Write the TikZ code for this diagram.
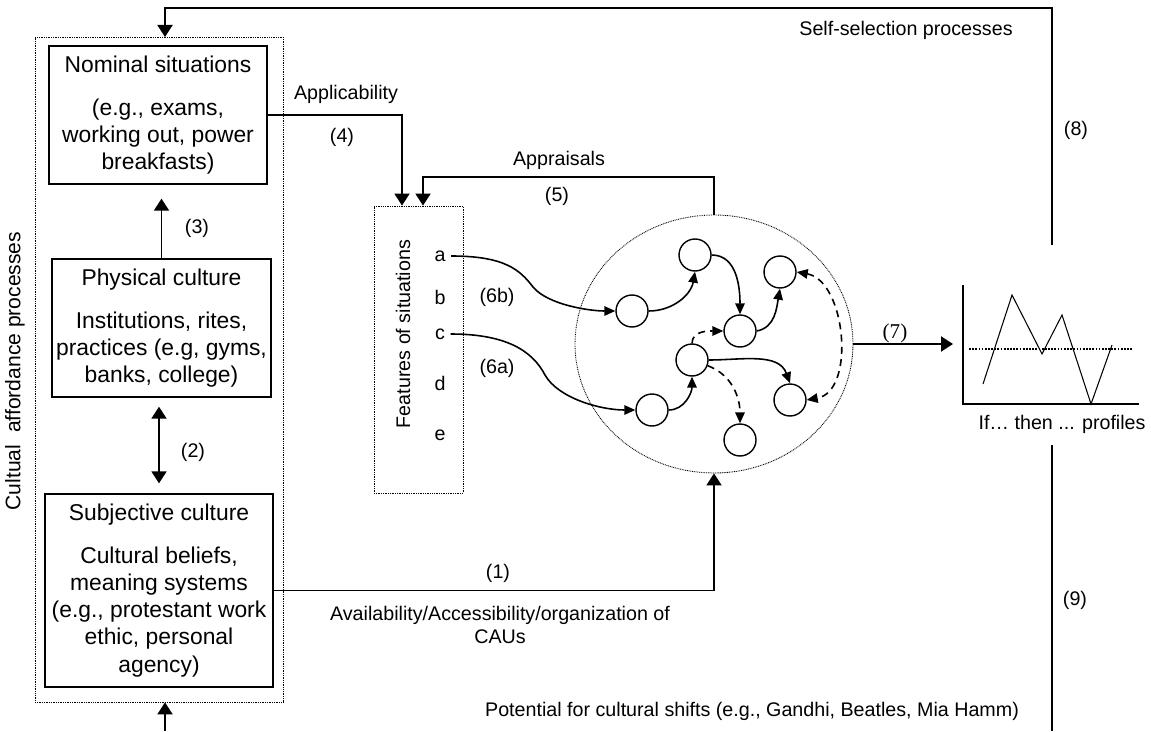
\documentclass[tikz,border=0pt]{standalone}
\usepackage{fontspec}
\setmainfont{Liberation Sans}
\newfontfamily\numserif{Liberation Serif}
\usetikzlibrary{arrows.meta,shapes.geometric}
\newcommand\boxfont{\fontsize{13}{15.4}\selectfont}
\newcommand\lblfont{\fontsize{11.2}{13.6}\selectfont}

\begin{document}
\begin{tikzpicture}[x=0.02cm,y=0.02cm,every node/.style={font=\lblfont}]
    \tikzset{
      sitbox/.style={draw,line width=0.8pt,align=center,font=\boxfont,inner sep=2pt},
      dotbox/.style={draw,line width=0.5pt,dash pattern=on 0.5pt off 0.5pt},
      cau/.style={draw,circle,line width=0.8pt,minimum size=0.64cm,inner sep=0pt},
      featlet/.style={inner sep=3pt},
      link/.style={line width=1.1pt},
      arr/.style={-{Triangle[length=2.4mm,width=3mm]},line width=1.1pt},
      darr/.style={{Triangle[length=2.4mm,width=3mm]}-{Triangle[length=2.4mm,width=3mm]},
        line width=1.1pt},
      cauarr/.style={-{Triangle[length=2.2mm,width=1.9mm]},line width=0.9pt},
      caudash/.style={cauarr,dash pattern=on 4pt off 3pt},
      chart/.style={line width=0.6pt}
    }
    \useasboundingbox (0,0) rectangle (1151,731);

    \node[dotbox,minimum width=4.96cm,minimum height=13.3cm] (aff) at (159,361.5) {};
    \node[rotate=90,font=\fontsize{12}{14}\selectfont] (afflbl) at (15,360)
      {Cultual\ \ affordance processes};
    \node[sitbox,minimum width=4.36cm,minimum height=2.76cm] (nom) at (158,616)
      {Nominal situations\\[0.32cm](e.g., exams,\\working out, power\\breakfasts)};
    \node[sitbox,minimum width=4.38cm,minimum height=2.76cm] (phys) at (161.5,403)
      {Physical culture\\[0.32cm]Institutions, rites,\\practices (e.g, gyms,\\banks, college)};
    \node[sitbox,minimum width=4.56cm,minimum height=3.86cm] (subj) at (159,140.5)
      {Subjective culture\\[0.32cm]Cultural beliefs,\\meaning systems\\(e.g., protestant work\\ethic, personal\\agency)};
    \draw[arr,shorten >=0.28cm] (phys.north) -- (phys.north |- nom.south);
    \draw[darr,shorten <=0.18cm,shorten >=0.2cm] (phys.south -| subj.north) -- (subj.north);
    \node (l3) at (197,503) {(3)};
    \node (l2) at (193,279) {(2)};

    \node[dotbox,minimum width=1.78cm,minimum height=5.74cm] (feat) at (418.5,381.5) {};
    \node[rotate=90] (featlbl) at (403,397) {Features of situations};
    \node[featlet] (fa) at (440,475) {a};
    \node[featlet] (fb) at (440,434) {b};
    \node[featlet] (fc) at (440,397) {c};
    \node[featlet] (fd) at (440,348) {d};
    \node[featlet] (fe) at (440,296) {e};

    \node[dotbox,ellipse,minimum width=5.56cm,minimum height=5.16cm] (net) at (714,387) {};
    \node[cau] (n1) at (632,420) {};
    \node[cau] (n2) at (695,476) {};
    \node[cau] (n3) at (740,400) {};
    \node[cau] (n4) at (780,459) {};
    \node[cau] (n5) at (692,371) {};
    \node[cau] (n6) at (652,321) {};
    \node[cau] (n7) at (790,331) {};
    \node[cau] (n8) at (740,291) {};
    \draw[cauarr] (fa.east) .. controls (505,475) and (520,461) .. (533,444)
      .. controls (548,426) and (590,420) .. (n1.west);
    \draw[cauarr] (fc.east) .. controls (505,397) and (532,381) .. (545,356)
      .. controls (558,333) and (600,321) .. (n6.west);
    \draw[cauarr] (n1.east) to[out=0,in=-100] (n2.south);
    \draw[cauarr] (n2.east) to[out=0,in=90] (n3.north);
    \draw[cauarr] (n3.east) to[out=10,in=-100] (n4.south);
    \draw[caudash] (n5.north) to[out=90,in=180] (n3.west);
    \draw[cauarr] (n6.east) to[out=0,in=-90] (n5.south);
    \draw[cauarr] (n5.east) to[out=0,in=110] (n7.north);
    \draw[caudash] (n5.-20) to[out=-20,in=90] (n8.north);
    \draw[caudash,{Triangle[length=2.2mm,width=1.9mm]}-{Triangle[length=2.2mm,width=1.9mm]}]
      (n4.east) to[out=-10,in=10] (n7.east);
    \node (l6b) at (497,434) {(6b)};
    \node (l6a) at (497,363) {(6a)};

    \draw[arr] (nom.east) -| ([xshift=-0.33cm]feat.north);
    \node (appl) at (346,637) {Applicability};
    \node (l4) at (342,594) {(4)};
    \draw[arr] (net.north) -- ++(0,38) -| ([xshift=0.09cm]feat.north);
    \node (appr) at (559,571) {Appraisals};
    \node (l5) at (557,535) {(5)};

    \draw[arr] (subj.east) -| (net.south);
    \node (l1) at (498,158) {(1)};
    \node[align=center] (avail) at (500,106)
      {Availability/Accessibility/organization of\\CAUs};

    \coordinate (prof) at (953,387);
    \draw[arr] (net.east) -- (prof);
    \node[font=\numserif\fontsize{12}{14}\selectfont] (l7) at (895,398) {(7)};
    \draw[chart] (963,446) |- (1139,327);
    \draw[chart,line width=0.8pt,dash pattern=on 1pt off 0.8pt] (969,382) -- (1133,382);
    \draw[chart] (983,347) -- (1012,436) -- (1042,377) -- (1062,416) -- (1091,327) -- (1112,386);
    \node (ifthen) at (1062,307) {If… then ... profiles};

    \coordinate (s8) at (1052,486);
    \coordinate (top8) at (1052,723);
    \coordinate (affin) at (165,694);
    \draw[arr] (s8) -- (top8) -| (affin);
    \node (self) at (906,701) {Self-selection processes};
    \node (l8) at (1076,601) {(8)};

    \coordinate (s9a) at (1052,286);
    \coordinate (s9b) at (1052,0);
    \draw[link] (s9a) -- (s9b);
    \node (l9) at (1075,131) {(9)};
    \node (shift) at (752,20) {Potential for cultural shifts (e.g., Gandhi, Beatles, Mia Hamm)};

    \coordinate (botin) at (165,0);
    \draw[arr] (botin) -- (botin |- aff.south);
  \end{tikzpicture}
\end{document}
